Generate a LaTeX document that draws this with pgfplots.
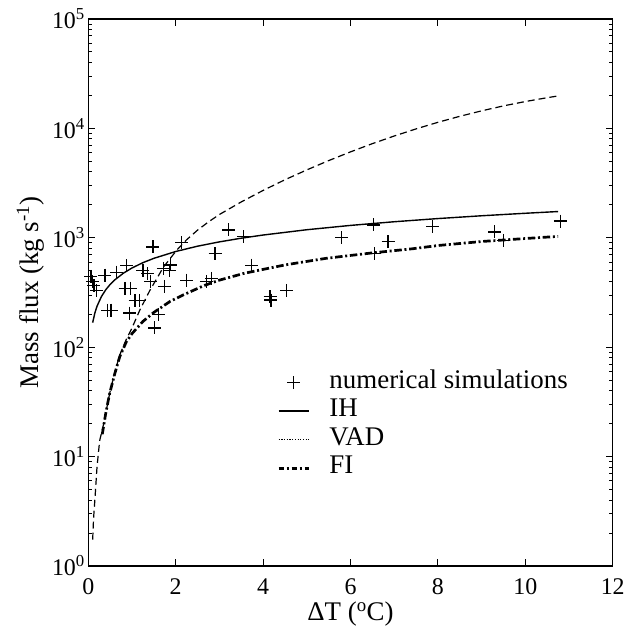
\documentclass[border=0pt]{standalone}
\usepackage{fontspec}
\setmainfont{Liberation Serif}
\usepackage{pgfplots}
\usepackage{pgfplotstable}
\pgfplotsset{compat=1.18}

\pgfplotstableread{
x y
0.06 445
0.10 400
0.13 365
0.18 330
0.38 455
0.44 218
0.52 218
0.65 485
0.88 555
0.84 345
0.96 345
0.95 205
1.07 268
1.17 268
1.25 505
1.36 470
1.43 398
1.48 825
1.52 150
1.60 200
1.74 360
1.72 525
1.86 500
1.88 565
2.14 900
2.25 410
2.70 400
2.82 425
2.90 715
3.21 1180
3.55 1025
3.74 562
4.16 290
4.18 270
4.54 330
5.80 1000
6.52 1310
6.55 718
6.86 920
7.88 1260
9.30 1130
9.50 945
10.80 1420
}\simsdata

\pgfplotstableread{
x y
0.10 167.6
0.15 205.3
0.20 237.0
0.30 290.3
0.40 335.2
0.50 374.8
0.60 410.5
0.80 474.0
1.00 530
1.25 592.6
1.50 649.1
2.00 749.5
2.50 838.0
3.00 918.0
3.50 991.5
4.00 1060
5.00 1185
6.00 1298
7.00 1402
8.00 1499
9.00 1590
10.00 1676
10.75 1738
}\ihdata

\pgfplotstableread{
x y
0.10 1.74
0.12 2.7
0.15 4.0
0.20 8.1
0.26 14.0
0.34 19
0.40 25
0.49 38
0.61 60
0.72 85
0.87 118
1.00 150
1.18 219
1.41 331
1.72 540
2.02 768
2.25 960
2.50 1175
2.75 1397
3.00 1633
3.50 2128
4.00 2710
4.50 3393
5.00 4174
5.50 5077
6.00 6103
6.50 7253
7.00 8520
7.50 9897
8.00 11365
8.50 12897
9.00 14470
9.50 16060
10.00 17600
10.50 19080
10.75 19800
}\vaddata

\pgfplotstableread{
x y
0.32 16
0.40 25
0.49 38
0.61 58
0.72 82
0.87 112
1.00 133
1.25 172
1.50 208
1.87 262
2.17 300
2.64 365
3.00 410
3.58 475
4.50 565
5.45 650
6.50 728
7.43 795
8.00 850
9.00 925
10.00 985
10.75 1030
}\fidata

\begin{document}
\begin{tikzpicture}
\begin{axis}[
  scale only axis,
  width=524.4bp, height=547bp,
  xmin=0, xmax=12, ymin=1, ymax=100000,
  ymode=log,
  xtick={0,2,4,6,8,10,12},
  ytick={1,10,100,1000,10000,100000},
  yticklabels={10\textsuperscript{0},10\textsuperscript{1},10\textsuperscript{2},10\textsuperscript{3},10\textsuperscript{4},10\textsuperscript{5}},
  minor ytick={2,3,4,5,6,7,8,9,20,30,40,50,60,70,80,90,200,300,400,500,600,700,800,900,2000,3000,4000,5000,6000,7000,8000,9000,20000,30000,40000,50000,60000,70000,80000,90000},
  /pgf/number format/assume math mode=true,
  tick align=inside,
  xtick pos=both, ytick pos=both,
  major tick length=7bp, minor tick length=4bp,
  tick style={line width=1bp, black},
  axis line style={line width=1.2bp},
  every tick label/.append style={font=\fontsize{24}{28}\selectfont},
  xticklabel style={yshift=-9bp},
  label style={font=\fontsize{27}{32}\selectfont},
  xlabel={ΔT (\textsuperscript{o}C)},
  ylabel={Mass flux (kg s\textsuperscript{-1})},
  xlabel style={at={(axis description cs:0.5,0)}, anchor=base, yshift=-54bp, inner sep=0pt},
  ylabel style={at={(axis description cs:-0.137,0.5)}, anchor=north, rotate=0, inner sep=0pt},
  legend image code/.code={\draw[mark repeat=2,mark phase=2,#1] plot coordinates {(0bp,0bp) (15bp,0bp) (30bp,0bp)}; \path (48bp,0bp);},
  legend cell align=left,
  legend style={draw=none, fill=none, at={(rel axis cs:0.36,0.361)}, anchor=north west,
    font=\fontsize{27}{32}\selectfont, row sep=0.5bp, inner sep=0pt,
    nodes={inner sep=1.5bp, text height=18bp, text depth=7bp}},
]
\coordinate (LL) at (rel axis cs:0,0);
\coordinate (UR) at (rel axis cs:1,1);
\addplot[forget plot, only marks, mark=+, mark size=6.5bp, line width=1.3bp] table {\simsdata};
\addplot[forget plot, line width=1.4bp] table {\ihdata};
\addplot[forget plot, line width=1.2bp, dash pattern=on 7bp off 4bp] table {\vaddata};
\addplot[forget plot, line width=2.7bp, dash pattern=on 7.5bp off 2.7bp on 2bp off 2.7bp] table {\fidata};
\addlegendimage{only marks, mark=+, mark size=6.5bp, line width=1.3bp}
\addlegendentry{numerical simulations}
\addlegendimage{line width=1.6bp}
\addlegendentry{IH}
\addlegendimage{line width=0.9bp, dash pattern=on 1.2bp off 1.5bp}
\addlegendentry{VAD}
\addlegendimage{line width=2.7bp, dash pattern=on 5bp off 3bp on 2bp off 3bp}
\addlegendentry{FI}
\end{axis}
\pgfresetboundingbox
\path[use as bounding box] ([xshift=-88.3bp,yshift=-70bp]LL) rectangle ([xshift=23.3bp,yshift=19bp]UR);
\end{tikzpicture}
\end{document}
